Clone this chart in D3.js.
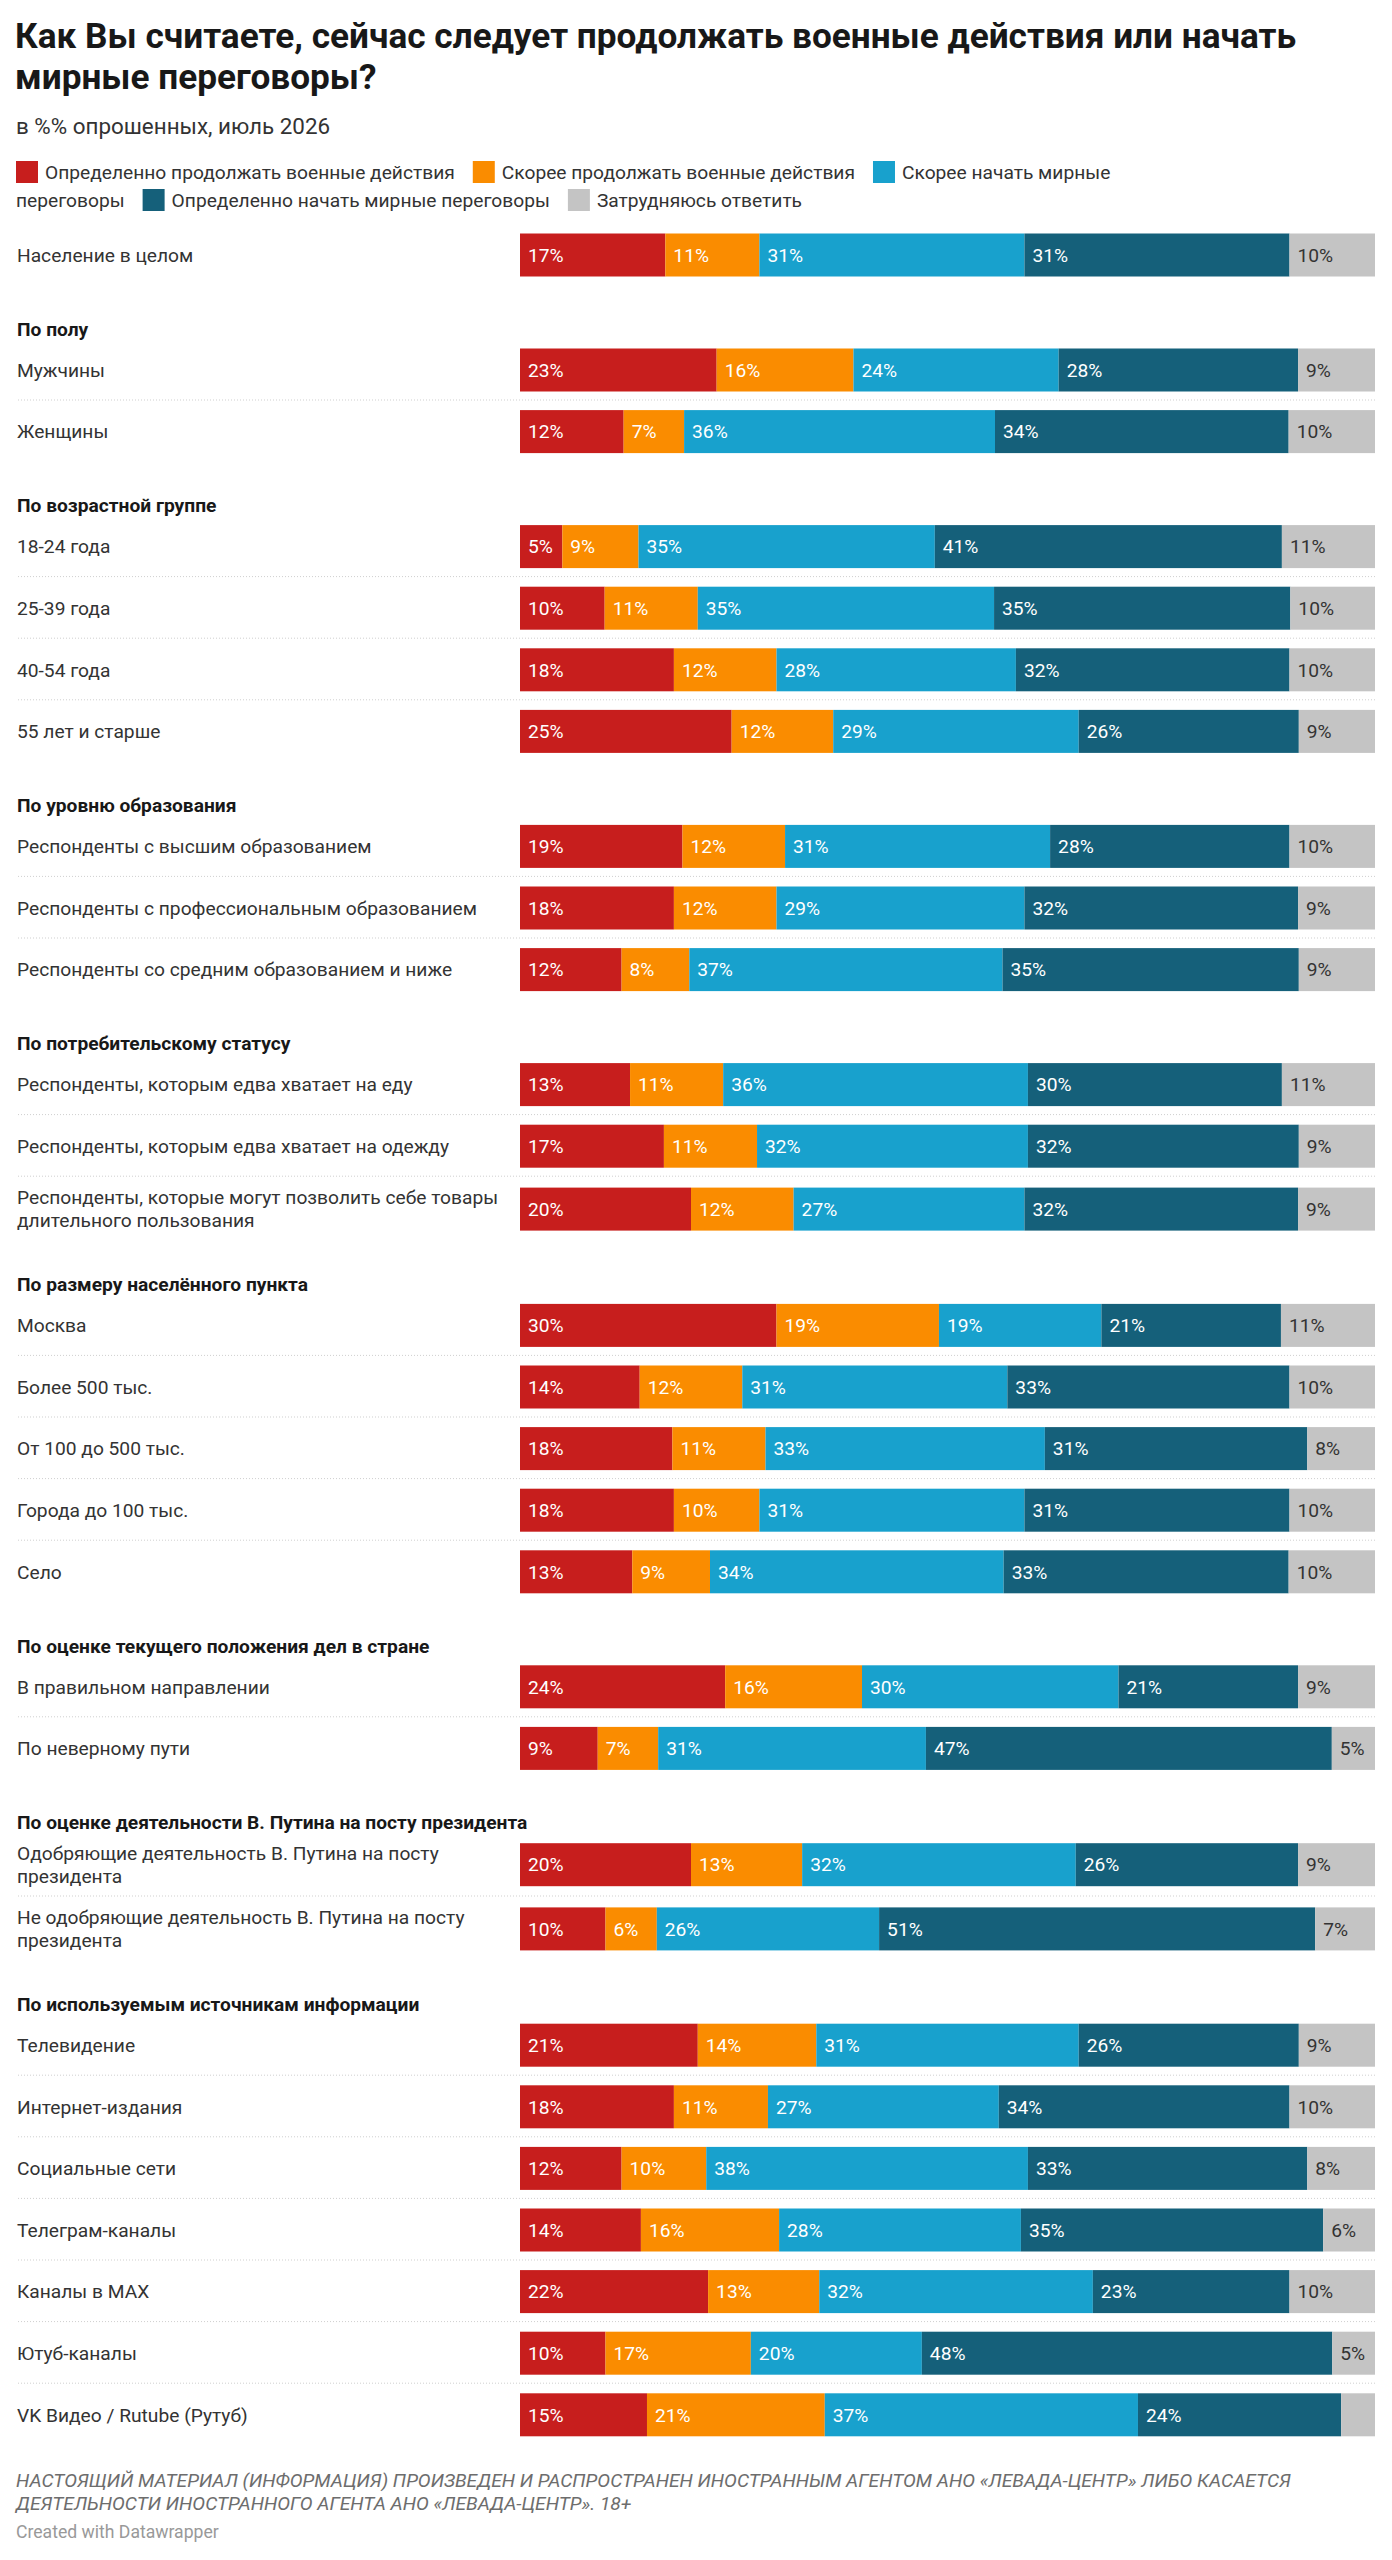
<!DOCTYPE html>
<html>
<head>
<meta charset="utf-8">
<script src="https://cdn.jsdelivr.net/npm/d3@7"></script>
<style>
  body { margin: 0; background: #fff; }
  svg { display: block; font-family: Roboto, "Noto Sans", sans-serif; }
</style>
</head>
<body>
<script>
// ---- data ----
var titleLines = ["Как Вы считаете, сейчас следует продолжать военные действия или начать", "мирные переговоры?"];
var subtitle = "в %% опрошенных, июль 2026";
var noteLines = [
  "НАСТОЯЩИЙ МАТЕРИАЛ (ИНФОРМАЦИЯ) ПРОИЗВЕДЕН И РАСПРОСТРАНЕН ИНОСТРАННЫМ АГЕНТОМ АНО «ЛЕВАДА-ЦЕНТР» ЛИБО КАСАЕТСЯ",
  "ДЕЯТЕЛЬНОСТИ ИНОСТРАННОГО АГЕНТА АНО «ЛЕВАДА-ЦЕНТР». 18+"
];
var credit = "Created with Datawrapper";

var seriesNames = [
  "Определенно продолжать военные действия",
  "Скорее продолжать военные действия",
  "Скорее начать мирные переговоры",
  "Определенно начать мирные переговоры",
  "Затрудняюсь ответить"
];
var seriesColors = ["#c71e1d", "#fa8c00", "#18a1cd", "#15607a", "#c4c4c4"];

var groupHeadings = [
  null,
  "По полу",
  "По возрастной группе",
  "По уровню образования",
  "По потребительскому статусу",
  "По размеру населённого пункта",
  "По оценке текущего положения дел в стране",
  "По оценке деятельности В. Путина на посту президента",
  "По используемым источникам информации"
];

var rowLabels = [
  "Население в целом",
  "Мужчины", "Женщины",
  "18-24 года", "25-39 года", "40-54 года", "55 лет и старше",
  "Респонденты с высшим образованием", "Респонденты с профессиональным образованием", "Респонденты со средним образованием и ниже",
  "Респонденты, которым едва хватает на еду", "Респонденты, которым едва хватает на одежду", "Респонденты, которые могут позволить себе товары\nдлительного пользования",
  "Москва", "Более 500 тыс.", "От 100 до 500 тыс.", "Города до 100 тыс.", "Село",
  "В правильном направлении", "По неверному пути",
  "Одобряющие деятельность В. Путина на посту\nпрезидента", "Не одобряющие деятельность В. Путина на посту\nпрезидента",
  "Телевидение", "Интернет-издания", "Социальные сети", "Телеграм-каналы", "Каналы в MAX", "Ютуб-каналы", "VK Видео / Rutube (Рутуб)"
];
var rowGroup = [0, 1, 1, 2, 2, 2, 2, 3, 3, 3, 4, 4, 4, 5, 5, 5, 5, 5, 6, 6, 7, 7, 8, 8, 8, 8, 8, 8, 8];

var definitelyContinue  = [17, 23, 12, 5, 10, 18, 25, 19, 18, 12, 13, 17, 20, 30, 14, 18, 18, 13, 24, 9, 20, 10, 21, 18, 12, 14, 22, 10, 15];
var ratherContinue      = [11, 16, 7, 9, 11, 12, 12, 12, 12, 8, 11, 11, 12, 19, 12, 11, 10, 9, 16, 7, 13, 6, 14, 11, 10, 16, 13, 17, 21];
var ratherNegotiate     = [31, 24, 36, 35, 35, 28, 29, 31, 29, 37, 36, 32, 27, 19, 31, 33, 31, 34, 30, 31, 32, 26, 31, 27, 38, 28, 32, 20, 37];
var definitelyNegotiate = [31, 28, 34, 41, 35, 32, 26, 28, 32, 35, 30, 32, 32, 21, 33, 31, 31, 33, 21, 47, 26, 51, 26, 34, 33, 35, 23, 48, 24];
var hardToSay           = [10, 9, 10, 11, 10, 10, 9, 10, 9, 9, 11, 9, 9, 11, 10, 8, 10, 10, 9, 5, 9, 7, 9, 10, 8, 6, 10, 5, 4];

// ---- layout ----
var W = 1392, H = 2560;
var padL = 17;
var barX0 = 520, barX1 = 1375;
var barH = 43;
var rowPitch = 61.6, headGap = 74, headToRow = 41, twoLineExtra = 2.6;
var firstRowY = 255;
var fs = 19.2;

var keys = ["a", "b", "c", "d", "e"];
var rows = rowLabels.map(function(label, i) {
  return {
    label: label, group: rowGroup[i],
    a: definitelyContinue[i], b: ratherContinue[i], c: ratherNegotiate[i],
    d: definitelyNegotiate[i], e: hardToSay[i]
  };
});

// vertical positions of rows, headings and separators
var headings = [], separators = [];
var prevY = null, prevExtra = 0;
rows.forEach(function(r, i) {
  var extra = r.label.indexOf("\n") >= 0 ? twoLineExtra : 0;
  var y;
  if (i === 0) {
    y = firstRowY;
  } else if (r.group !== rows[i - 1].group) {
    var hy = prevY + prevExtra / 2 + headGap;
    headings.push({ text: groupHeadings[r.group], y: hy });
    y = hy + headToRow + extra / 2;
  } else {
    separators.push(prevY + prevExtra / 2 + 30);
    y = prevY + prevExtra / 2 + rowPitch + extra / 2;
  }
  r.y = y;
  prevY = y; prevExtra = extra;
});

var x = d3.scaleLinear().domain([0, 1]).range([barX0, barX1]);
var y = d3.scaleOrdinal().domain(d3.range(rows.length)).range(rows.map(function(r) { return r.y; }));
var color = d3.scaleOrdinal().domain(keys).range(seriesColors);

var stacked = d3.stack().keys(keys).offset(d3.stackOffsetExpand)(rows);

var svg = d3.select("body").append("svg")
  .attr("width", W)
  .attr("height", H);

// title
svg.append("g").selectAll("text")
  .data(titleLines)
  .enter().append("text")
  .attr("x", 15)
  .attr("y", function(d, i) { return 48 + i * 40.5; })
  .style("font-size", "35.2px")
  .style("font-weight", 700)
  .style("fill", "#181818")
  .text(function(d) { return d; });

svg.append("text")
  .attr("x", 16).attr("y", 134)
  .style("font-size", "22.4px")
  .style("fill", "#333")
  .text(subtitle);

// legend with word wrapping like an inline flow
var measurer = svg.append("text").style("font-size", fs + "px").attr("visibility", "hidden");
function textW(s) { measurer.text(s); return measurer.node().getComputedTextLength(); }

var legend = svg.append("g");
var legMax = 1180, lx = 16, line = 0;
function legBase(l) { return 179 + l * 28; }
seriesNames.forEach(function(name, i) {
  var words = name.split(" ");
  if (lx + 29 + textW(words[0]) > legMax) { line++; lx = 16; }
  legend.append("rect")
    .attr("x", lx).attr("y", legBase(line) - 18)
    .attr("width", 22).attr("height", 22)
    .style("fill", seriesColors[i]);
  lx += 29;
  var frag = "", fx = lx;
  words.forEach(function(w) {
    var cand = frag ? frag + " " + w : w;
    if (frag && fx + textW(cand) > legMax) {
      legend.append("text").attr("x", fx).attr("y", legBase(line))
        .style("font-size", fs + "px").style("fill", "#333").text(frag);
      line++; fx = 16; frag = w;
    } else {
      frag = cand;
    }
  });
  legend.append("text").attr("x", fx).attr("y", legBase(line))
    .style("font-size", fs + "px").style("fill", "#333").text(frag);
  lx = fx + textW(frag) + 18;
});
measurer.remove();

// separators
svg.append("g").selectAll("line")
  .data(separators)
  .enter().append("line")
  .attr("x1", 18).attr("x2", barX1)
  .attr("y1", function(d) { return d; })
  .attr("y2", function(d) { return d; })
  .style("stroke", "#cfcfcf")
  .style("stroke-width", 1)
  .style("stroke-dasharray", "1,2");

// group headings
svg.append("g").selectAll("text")
  .data(headings)
  .enter().append("text")
  .attr("x", padL)
  .attr("y", function(d) { return d.y; })
  .attr("dy", "0.35em")
  .style("font-size", fs + "px")
  .style("font-weight", 700)
  .style("fill", "#181818")
  .text(function(d) { return d.text; });

// row labels
var labels = svg.append("g").selectAll("text")
  .data(rows)
  .enter().append("text")
  .attr("x", padL)
  .attr("y", function(d, i) { return y(i); })
  .style("font-size", fs + "px")
  .style("fill", "#333");

labels.each(function(d) {
  var parts = d.label.split("\n");
  var t = d3.select(this);
  parts.forEach(function(p, j) {
    t.append("tspan")
      .attr("x", padL)
      .attr("dy", j === 0 ? (0.35 - (parts.length - 1) * 0.6) + "em" : "1.2em")
      .text(p);
  });
});

// bars
var series = svg.append("g").selectAll("g")
  .data(stacked)
  .enter().append("g")
  .style("fill", function(d) { return color(d.key); });

series.selectAll("rect")
  .data(function(d) { return d; })
  .enter().append("rect")
  .attr("x", function(d) { return x(d[0]); })
  .attr("y", function(d, i) { return y(i) - barH / 2; })
  .attr("width", function(d) { return x(d[1]) - x(d[0]); })
  .attr("height", barH);

// value labels, hidden when they do not fit in the segment
series.each(function(s) {
  var g = d3.select(this);
  var dark = s.key === "e";
  s.forEach(function(d, i) {
    var val = d.data[s.key];
    var segW = x(d[1]) - x(d[0]);
    var t = g.append("text")
      .attr("x", x(d[0]) + 8)
      .attr("y", y(i))
      .attr("dy", "0.35em")
      .style("font-size", fs + "px")
      .style("fill", dark ? "#333" : "#fff")
      .text(val + "%");
    if (t.node().getComputedTextLength() + 16 > segW) t.remove();
  });
});

// notes
svg.append("g").selectAll("text")
  .data(noteLines)
  .enter().append("text")
  .attr("x", 16)
  .attr("y", function(d, i) { return 2487 + i * 22.5; })
  .style("font-size", fs + "px")
  .style("font-style", "italic")
  .style("fill", "#6d6d6d")
  .text(function(d) { return d; });

svg.append("text")
  .attr("x", 16).attr("y", 2538)
  .style("font-size", "17.6px")
  .style("fill", "#999")
  .text(credit);
</script>
</body>
</html>
